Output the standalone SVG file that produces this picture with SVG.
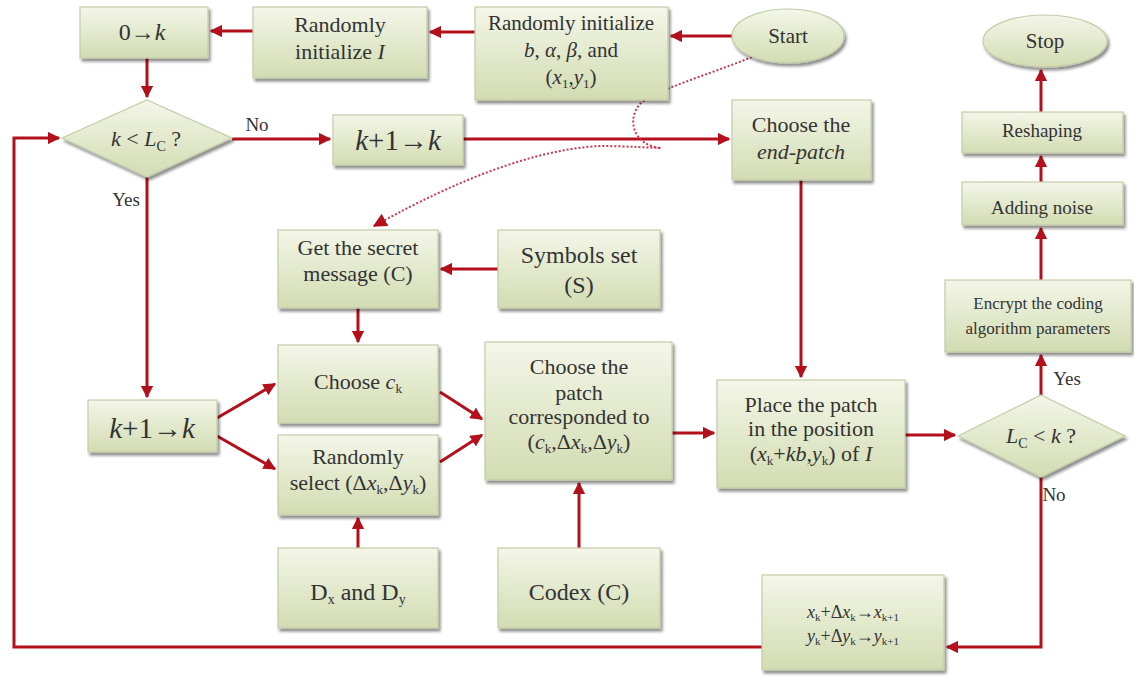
<svg xmlns="http://www.w3.org/2000/svg" width="1134" height="678" viewBox="0 0 1134 678">
<defs>
<linearGradient id="g" x1="0" y1="0" x2="0" y2="1">
<stop offset="0" stop-color="#f4f6e8"/>
<stop offset="1" stop-color="#d2dcb2"/>
</linearGradient>
<marker id="ah" viewBox="0 0 10 10" refX="9" refY="5" markerWidth="4.2" markerHeight="4.2" orient="auto" markerUnits="strokeWidth">
<path d="M0,0 L10,5 L0,10 z" fill="#b3101c"/>
</marker>
<marker id="ad" viewBox="0 0 10 10" refX="9" refY="5" markerWidth="7" markerHeight="7" orient="auto" markerUnits="strokeWidth">
<path d="M0,0 L10,5 L0,10 z" fill="#b3101c"/>
</marker>
<filter id="sh" x="-10%" y="-10%" width="125%" height="130%">
<feGaussianBlur in="SourceAlpha" stdDeviation="1.5"/>
<feOffset dx="2" dy="3" result="b"/>
<feComponentTransfer><feFuncA type="linear" slope="0.45"/></feComponentTransfer>
<feMerge><feMergeNode/><feMergeNode in="SourceGraphic"/></feMerge>
</filter>
</defs>
<style>
.n{fill:url(#g);stroke:#c3cca8;stroke-width:1.2;filter:url(#sh)}
.c{fill:none;stroke:#b3101c;stroke-width:3}
.d{fill:none;stroke:#c8384e;stroke-width:2;stroke-dasharray:2 2}
.t{font-family:"Liberation Serif","Times New Roman",serif;fill:#333;text-anchor:middle}
.i{font-style:italic}
.s17{font-size:17px}.s19{font-size:19px}.s21{font-size:21px}.s22{font-size:22px}.s24{font-size:24px}.s29{font-size:29px}
</style>
<rect width="1134" height="678" fill="#ffffff"/>

<g id="connectors">
<path class="c" d="M732,36 L671,36" marker-end="url(#ah)"/>
<path class="c" d="M475,32 L430,32" marker-end="url(#ah)"/>
<path class="c" d="M253,31 L211,31" marker-end="url(#ah)"/>
<path class="c" d="M147,58 L147,97" marker-end="url(#ah)"/>
<path class="c" d="M232,139 L330,139" marker-end="url(#ah)"/>
<path class="c" d="M463,139 L729,139" marker-end="url(#ah)"/>
<path class="c" d="M801,180 L801,377" marker-end="url(#ah)"/>
<path class="c" d="M147,177 L147,397" marker-end="url(#ah)"/>
<path class="c" d="M217,418 L275,384" marker-end="url(#ah)"/>
<path class="c" d="M217,436 L275,469" marker-end="url(#ah)"/>
<path class="c" d="M358,308 L358,342" marker-end="url(#ah)"/>
<path class="c" d="M498,269 L441,269" marker-end="url(#ah)"/>
<path class="c" d="M440,392 L482,419" marker-end="url(#ah)"/>
<path class="c" d="M440,462 L482,435" marker-end="url(#ah)"/>
<path class="c" d="M358,548 L358,518" marker-end="url(#ah)"/>
<path class="c" d="M579,548 L579,483" marker-end="url(#ah)"/>
<path class="c" d="M672,433 L714,433" marker-end="url(#ah)"/>
<path class="c" d="M905,435 L955,435" marker-end="url(#ah)"/>
<path class="c" d="M1041,395 L1041,355" marker-end="url(#ah)"/>
<path class="c" d="M1041,280 L1041,228" marker-end="url(#ah)"/>
<path class="c" d="M1041,182 L1041,156" marker-end="url(#ah)"/>
<path class="c" d="M1041,112 L1041,70" marker-end="url(#ah)"/>
<path class="c" d="M1041,477 L1041,647 L947,647" marker-end="url(#ah)"/>
<path class="c" d="M762,647 L14,647 L14,138 L59,138" marker-end="url(#ah)"/>
<path class="d" d="M752,57 C705,76 655,90 640,104 C626,120 634,146 661,148 C655,148 625,146 600,146 C520,150 430,195 374,226" marker-end="url(#ad)"/>
<text class="t s19" x="257" y="131">No</text>
<text class="t s19" x="126" y="206">Yes</text>
<text class="t s19" x="1067" y="385">Yes</text>
<text class="t s19" x="1054" y="501">No</text>
</g>

<g id="start">
<ellipse class="n" cx="788" cy="36" rx="56" ry="27"/>
<text class="t s21" x="788" y="43">Start</text>
</g>
<g id="init-b">
<rect class="n" x="475" y="7" width="193" height="93"/>
<text class="t s21" x="571" y="30">Randomly initialize</text>
<text class="t s21" x="571" y="57"><tspan class="i">b</tspan>, <tspan class="i">α</tspan>, <tspan class="i">β</tspan>, and</text>
<text class="t s21" x="571" y="84">(<tspan class="i">x</tspan><tspan font-size="13" dy="4">1</tspan><tspan dy="-4">,</tspan><tspan class="i">y</tspan><tspan font-size="13" dy="4">1</tspan><tspan dy="-4">)</tspan></text>
</g>
<g id="init-I">
<rect class="n" x="253" y="7" width="174" height="71"/>
<text class="t s22" x="340" y="32">Randomly</text>
<text class="t s22" x="340" y="59">initialize <tspan class="i">I</tspan></text>
</g>
<g id="zero-k">
<rect class="n" x="80" y="7" width="128" height="51"/>
<text class="t s24" x="142" y="40">0→<tspan class="i">k</tspan></text>
</g>
<g id="cond1">
<path class="n" d="M147,100 L232,138 L147,177 L62,138 Z"/>
<text class="t s22" x="146" y="146"><tspan class="i">k</tspan> &lt; <tspan class="i">L</tspan><tspan font-size="14" dy="5">C</tspan><tspan dy="-5"> ?</tspan></text>
</g>
<g id="inc-top">
<rect class="n" x="333" y="115" width="130" height="50"/>
<text class="t s29" x="398" y="150"><tspan class="i">k</tspan>+1→<tspan class="i">k</tspan></text>
</g>
<g id="end-patch">
<rect class="n" x="732" y="100" width="139" height="80"/>
<text class="t s22" x="801" y="132">Choose the</text>
<text class="t s22 i" x="801" y="159">end-patch</text>
</g>
<g id="stop">
<ellipse class="n" cx="1045" cy="41" rx="62" ry="26"/>
<text class="t s21" x="1045" y="48">Stop</text>
</g>
<g id="reshaping">
<rect class="n" x="962" y="112" width="161" height="41"/>
<text class="t s19" x="1042" y="137">Reshaping</text>
</g>
<g id="noise">
<rect class="n" x="962" y="182" width="161" height="43"/>
<text class="t s19" x="1042" y="214">Adding noise</text>
</g>
<g id="encrypt">
<rect class="n" x="945" y="280" width="186" height="72"/>
<text class="t s17" x="1038" y="309">Encrypt the coding</text>
<text class="t s17" x="1038" y="334">algorithm parameters</text>
</g>
<g id="cond2">
<path class="n" d="M1041,395 L1125,436 L1041,477 L958,436 Z"/>
<text class="t s22" x="1041" y="443"><tspan class="i">L</tspan><tspan font-size="14" dy="5">C</tspan><tspan dy="-5"> &lt; </tspan><tspan class="i">k</tspan> ?</text>
</g>
<g id="secret">
<rect class="n" x="278" y="230" width="160" height="78"/>
<text class="t s22" x="358" y="255">Get the secret</text>
<text class="t s22" x="358" y="281">message (C)</text>
</g>
<g id="symbols">
<rect class="n" x="498" y="230" width="162" height="78"/>
<text class="t s24" x="579" y="263">Symbols set</text>
<text class="t s24" x="579" y="293">(S)</text>
</g>
<g id="choose-ck">
<rect class="n" x="278" y="345" width="160" height="78"/>
<text class="t s22" x="358" y="389">Choose <tspan class="i">c</tspan><tspan font-size="13" dy="4">k</tspan></text>
</g>
<g id="inc-left">
<rect class="n" x="88" y="400" width="129" height="52"/>
<text class="t s29" x="152" y="438"><tspan class="i">k</tspan>+1→<tspan class="i">k</tspan></text>
</g>
<g id="select">
<rect class="n" x="278" y="435" width="160" height="80"/>
<text class="t s22" x="358" y="464">Randomly</text>
<text class="t s22" x="358" y="490">select (Δ<tspan class="i">x</tspan><tspan font-size="13" dy="4">k</tspan><tspan dy="-4">,Δ</tspan><tspan class="i">y</tspan><tspan font-size="13" dy="4">k</tspan><tspan dy="-4">)</tspan></text>
</g>
<g id="choose-patch">
<rect class="n" x="485" y="342" width="187" height="138"/>
<text class="t s22" x="579" y="374">Choose the</text>
<text class="t s22" x="579" y="400">patch</text>
<text class="t s22" x="579" y="424">corresponded to</text>
<text class="t s22" x="579" y="449">(<tspan class="i">c</tspan><tspan font-size="13" dy="4">k</tspan><tspan dy="-4">,Δ</tspan><tspan class="i">x</tspan><tspan font-size="13" dy="4">k</tspan><tspan dy="-4">,Δ</tspan><tspan class="i">y</tspan><tspan font-size="13" dy="4">k</tspan><tspan dy="-4">)</tspan></text>
</g>
<g id="place-patch">
<rect class="n" x="717" y="380" width="188" height="108"/>
<text class="t s22" x="811" y="412">Place the patch</text>
<text class="t s22" x="811" y="436">in the position</text>
<text class="t s22" x="811" y="461">(<tspan class="i">x</tspan><tspan font-size="13" dy="4">k</tspan><tspan dy="-4">+</tspan><tspan class="i">kb</tspan>,<tspan class="i">y</tspan><tspan font-size="13" dy="4">k</tspan><tspan dy="-4">) of </tspan><tspan class="i">I</tspan></text>
</g>
<g id="dxdy">
<rect class="n" x="278" y="548" width="160" height="80"/>
<text class="t s24" x="358" y="600">D<tspan font-size="14" dy="4">x</tspan><tspan dy="-4"> and D</tspan><tspan font-size="14" dy="4">y</tspan></text>
</g>
<g id="codex">
<rect class="n" x="498" y="548" width="162" height="80"/>
<text class="t s24" x="579" y="600">Codex (C)</text>
</g>
<g id="update">
<rect class="n" x="762" y="575" width="182" height="95"/>
<text class="t" x="853" y="618" font-size="18"><tspan class="i">x</tspan><tspan font-size="11" dy="3">k</tspan><tspan dy="-3">+Δ</tspan><tspan class="i">x</tspan><tspan font-size="11" dy="3">k</tspan><tspan dy="-3">→</tspan><tspan class="i">x</tspan><tspan font-size="11" dy="3">k+1</tspan></text>
<text class="t" x="853" y="642" font-size="18"><tspan class="i">y</tspan><tspan font-size="11" dy="3">k</tspan><tspan dy="-3">+Δ</tspan><tspan class="i">y</tspan><tspan font-size="11" dy="3">k</tspan><tspan dy="-3">→</tspan><tspan class="i">y</tspan><tspan font-size="11" dy="3">k+1</tspan></text>
</g>
</svg>
